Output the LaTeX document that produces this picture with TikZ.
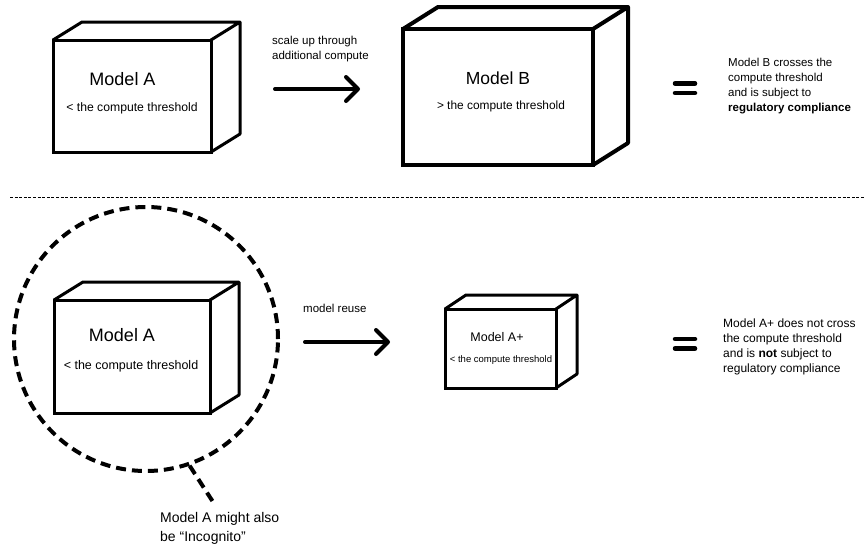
\documentclass[tikz,border=0pt]{standalone}
\usepackage{fontspec}
\setmainfont{Liberation Sans}
\usetikzlibrary{arrows.meta,calc}
\newcommand\fs[2]{\fontsize{#1}{#2}\selectfont}
\newcommand\mycube[8]{%
  \node[draw, line width=#8, minimum width=#4, minimum height=#5, inner sep=0pt, outer sep=0pt, fill=white] (#1) at (#2,#3) {};
  \draw[line width=#8, line join=round] (#1.north west) -- ++(#6,#7) -- ($(#1.north east)+(#6,#7)$) -- ($(#1.south east)+(#6,#7)$) -- (#1.south east)
    ($(#1.north east)+(#6,#7)$) -- (#1.north east);
}
\begin{document}
\begin{tikzpicture}[x=1pt,y=-1pt,
  lbl/.style={inner sep=0pt, align=left, anchor=base west},
  ctr/.style={inner sep=0pt, anchor=base},
  bigarrow/.style={line width=4pt, line cap=round, -{Straight Barb[length=12pt,width=24pt,round]}},
  eqbar/.style={line width=4.5pt, line cap=round}]
\useasboundingbox (0,0) rectangle (865,544);

% ---------- top row ----------
\mycube{fa}{132}{96}{158}{112}{29}{-18}{3pt}
\node[ctr, font=\fs{18}{21}] (faT) at (122.5,85) {Model A};
\node[ctr, font=\fs{12.2}{14}] (faS) at (132,111) {< the compute threshold};

% (base of multi-line nodes = last line)
\node[lbl, font=\fs{11.5}{15}] (t1) at (272,59) {scale up through\\additional compute};
\coordinate (a1s) at (275,89);
\coordinate (a1e) at (360,89);
\draw[bigarrow] (a1s) -- (a1e);

\mycube{fb}{498}{97}{190}{136}{35}{-22}{4pt}
\node[ctr, font=\fs{17.5}{21}] (fbT) at (498,84) {Model B};
\node[ctr, font=\fs{11.9}{14}] (fbS) at (501,109.5) {> the compute threshold};

\coordinate (e1a) at (675,83.5); \coordinate (e1b) at (695,83.5);
\coordinate (e1c) at (675,93); \coordinate (e1d) at (695,93);
\draw[eqbar] (e1a) -- (e1b) (e1c) -- (e1d);

\node[lbl, font=\fs{11.5}{15}] (t2) at (728,111) {Model B crosses the\\compute threshold\\and is subject to\\\textbf{regulatory compliance}};

% ---------- separator ----------
\coordinate (s1) at (10,197.5); \coordinate (s2) at (865,197.5);
\draw[line width=1.4pt, dash pattern=on 3pt off 1.6pt] (s1) -- (s2);

% ---------- bottom row ----------
\node[circle, draw, line width=4pt, dash pattern=on 10pt off 6pt, minimum size=264pt, inner sep=0pt] (circ) at (146,339) {};
\coordinate (pend) at (215,505);
\draw[line width=4pt, dash pattern=on 10pt off 6pt] (circ.-71) -- (pend);

\mycube{ga}{132}{356.5}{156}{113}{29}{-18}{3pt}
\node[ctr, font=\fs{18}{21}] (gaT) at (122,341) {Model A};
\node[ctr, font=\fs{12.5}{14}] (gaS) at (131,369) {< the compute threshold};

\node[lbl, font=\fs{11.5}{15}] (t3) at (303,312) {model reuse};
\coordinate (a2s) at (305,342);
\coordinate (a2e) at (390,342);
\draw[bigarrow] (a2s) -- (a2e);

\mycube{gp}{500.5}{348.5}{111}{79}{21}{-14}{3pt}
\node[ctr, font=\fs{12.5}{14}] (gpT) at (497,341) {Model A+};
\node[ctr, font=\fs{9.5}{11}] (gpS) at (501,362.5) {< the compute threshold};

\coordinate (e2a) at (675,339); \coordinate (e2b) at (695,339);
\coordinate (e2c) at (675,348.5); \coordinate (e2d) at (695,348.5);
\draw[eqbar] (e2a) -- (e2b) (e2c) -- (e2d);

\node[lbl, font=\fs{12}{15}] (t4) at (723,372.5) {Model A+ does not cross\\the compute threshold\\and is \textbf{not} subject to\\regulatory compliance};

\node[lbl, font=\fs{14}{19}] (t5) at (160,541) {Model A might also\\be “Incognito”};
\end{tikzpicture}
\end{document}
